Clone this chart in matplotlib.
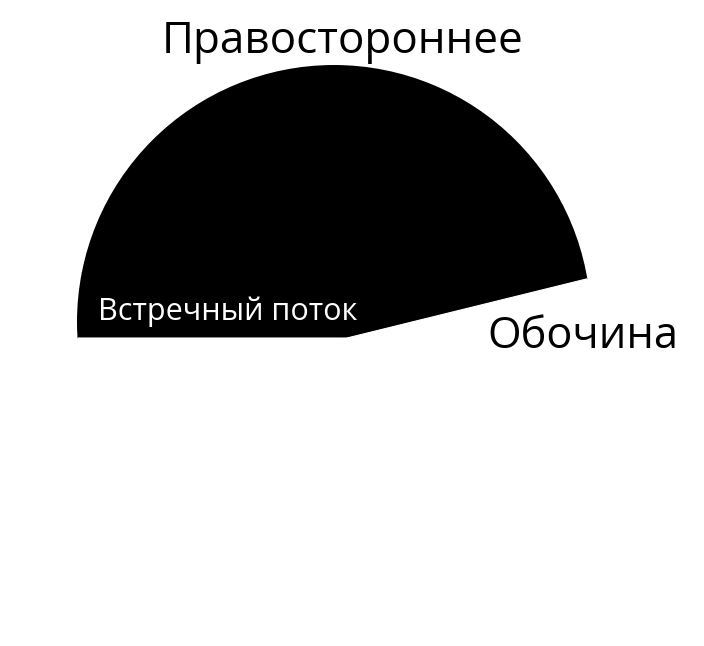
import matplotlib
matplotlib.use("Agg")
import matplotlib.pyplot as plt
from matplotlib.patches import Circle

# Data (half-pie: the last, hidden slice equals the sum of the visible ones)
labels = ['Встречный поток', 'Правостороннее', 'Обочина']
values = [1, 11, 1]
slice_colors = ['#000000', '#000000', '#ffffff']

W, H = 704, 646
fig = plt.figure(figsize=(W / 100, H / 100), dpi=100)
fig.patch.set_facecolor('white')
ax = fig.add_axes([0, 0, 1, 1])

# layout (pixel-like data coords, y up)
vertex = (347, H - 338)
clip_center = (334, H - 322)
clip_r = 257

all_colors = slice_colors + ['#ffffff']
wedges, _ = ax.pie(values + [sum(values)],
                   colors=all_colors,
                   startangle=180, counterclock=False,
                   center=vertex, radius=400,
                   wedgeprops=dict(linewidth=0.8))
for w, c in zip(wedges, all_colors):
    w.set_edgecolor(c)

ax.set_xlim(0, W)
ax.set_ylim(0, H)
ax.set_aspect('equal')
ax.axis('off')

clip = Circle(clip_center, clip_r, facecolor='none', edgecolor='none')
ax.add_patch(clip)
clip.set_visible(False)
for w in wedges:
    w.set_clip_on(True)
    w.set_clip_path(clip)

font = ['Open Sans', 'DejaVu Sans']
ax.text(343, H - 53, labels[1], ha='center', va='baseline',
        fontsize=31.7, color='black', family=font)
ax.text(583, H - 348, labels[2], ha='center', va='baseline',
        fontsize=31.2, color='black', family=font)
ax.text(228, H - 320, labels[0], ha='center', va='baseline',
        fontsize=22, color='white', family=font)

fig.savefig('out.png', dpi=100, facecolor='white')
